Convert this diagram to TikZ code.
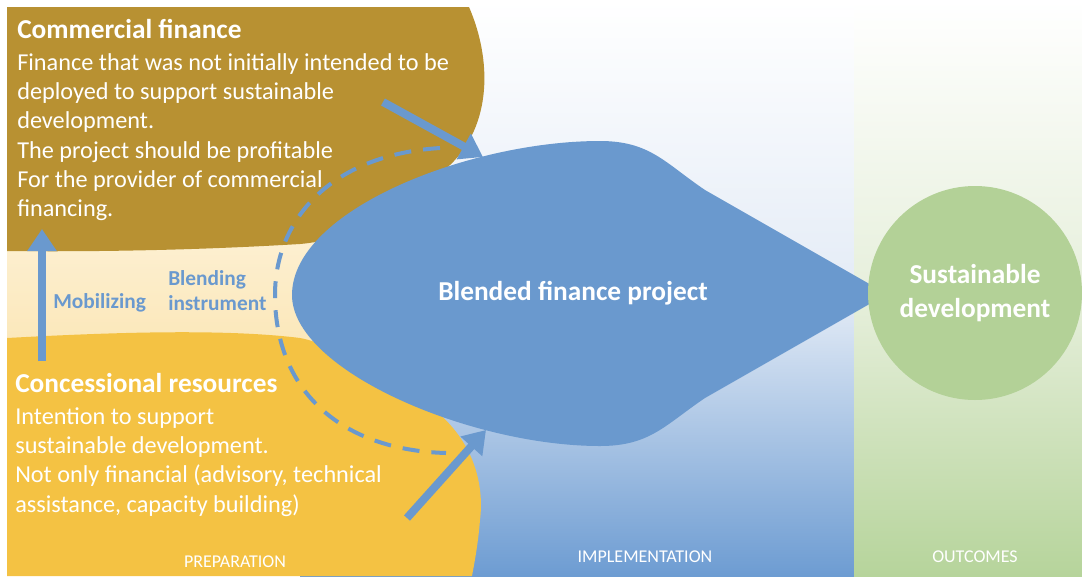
\documentclass[tikz,border=0pt]{standalone}
\usepackage{fontspec}
\setmainfont{Carlito}
\usetikzlibrary{arrows.meta}

\definecolor{cfbrown}{HTML}{B89132}
\definecolor{cryellow}{HTML}{F4C243}
\definecolor{bfblue}{HTML}{6A99CE}
\definecolor{sdgreen}{HTML}{B3D197}
\definecolor{creamtop}{HTML}{FDF0D2}
\definecolor{creammid}{HTML}{FEF7E6}
\definecolor{creambot}{HTML}{FBE7B8}
\definecolor{implmid}{HTML}{E3EBF6}
\definecolor{impllow}{HTML}{6D9CD2}
\definecolor{outcmid}{HTML}{E6EFDB}
\definecolor{outclow}{HTML}{B6D49B}

\begin{document}
\begin{tikzpicture}[x=0.75pt, y=-0.75pt,
    heading/.style={inner sep=0pt, text=white, font=\fontsize{20.5}{25}\selectfont\bfseries},
    body/.style={inner sep=0pt, text=white, align=left, font=\fontsize{18.2}{22}\selectfont},
    note/.style={inner sep=0pt, text=bfblue, align=left, font=\fontsize{16}{18.75}\selectfont\bfseries},
    phase/.style={inner sep=0pt, text=white, font=\fontsize{13.5}{15}\selectfont},
    push/.style={draw=bfblue, line width=6pt, -{Triangle[length=16.5pt, width=21pt]}}]

        \useasboundingbox (0, 0) rectangle (1082, 576);
        \fill[white] (0, 0) rectangle (1082, 576);

        % phase columns
        \shade[top color=white, bottom color=implmid] (300, 0) rectangle (854, 300);
        \shade[top color=implmid, bottom color=impllow] (300, 300) rectangle (854, 576);
        \shade[top color=white, bottom color=outcmid] (854, 0) rectangle (1082, 300);
        \shade[top color=outcmid, bottom color=outclow] (854, 300) rectangle (1082, 576);
        \shade[top color=creamtop, middle color=creammid, bottom color=creambot] (7, 235) rectangle (340, 350);

        % the two sources
        \fill[cfbrown] (7, 7) -- (469, 7) .. controls (492, 60) and (492, 125) .. (450, 165)
            .. controls (400, 210) and (350, 240) .. (300, 244)
            .. controls (200, 250) and (100, 252) .. (7, 251) -- cycle;
        \fill[cryellow] (7, 338) .. controls (100, 333) and (220, 328) .. (300, 338)
            .. controls (340, 345) and (380, 385) .. (438, 413)
            .. controls (470, 440) and (485, 480) .. (480, 520)
            .. controls (478, 545) and (474, 565) .. (472, 576) -- (7, 576) -- cycle;

        % the project
        \fill[bfblue] (887, 294) -- (705, 190) .. controls (665, 163) and (650, 141) .. (600, 141)
            .. controls (470, 141) and (292, 210) .. (292, 295)
            .. controls (292, 370) and (470, 446) .. (600, 446)
            .. controls (650, 446) and (665, 425) .. (705, 398) -- cycle;

        \coordinate (cfstart) at (383, 102);
        \coordinate (cfend) at (483, 157);
        \coordinate (crstart) at (407, 518);
        \coordinate (crend) at (486, 430);
        \coordinate (mobstart) at (42, 361);
        \coordinate (mobend) at (42, 229);
        \coordinate (blendtop) at (440, 148);
        \coordinate (blendbot) at (446, 453);

        \draw[bfblue, line width=3pt, dash pattern=on 12.75pt off 9pt] (blendtop)
            .. controls (330, 155) and (275, 220) .. (275, 295)
            .. controls (275, 390) and (340, 450) .. (blendbot);
        \draw[push] (cfstart) -- (cfend);
        \draw[push] (crstart) -- (crend);
        \draw[push] (mobstart) -- (mobend);

        \node[heading, anchor=base west] (cfhead) at (17, 38.6) {Commercial finance};
        \node[body, anchor=north west] (cfbody) at (17, 53) {Finance that was not initially intended to be\\deployed to support sustainable\\development.\\The project should be profitable\\For the provider of commercial\\financing.};
        \node[heading, anchor=base west] (crhead) at (15, 392) {Concessional resources};
        \node[body, anchor=north west] (crbody) at (15, 407) {Intention to support\\sustainable development.\\Not only financial (advisory, technical\\assistance, capacity building)};
        \node[note, anchor=base west] (mobil) at (53, 308) {Mobilizing};
        \node[note, anchor=north west] (blend) at (168, 270) {Blending\\instrument};
        \node[heading, anchor=base] (project) at (573, 300) {Blended finance project};
        \node[heading, circle, fill=sdgreen, minimum size=160.5pt, align=center] (sustdev) at (975, 293) {Sustainable\\development};

        \node[phase, anchor=base] (prep) at (235, 567.6) {PREPARATION};
        \node[phase, anchor=base] (impl) at (645, 562.6) {IMPLEMENTATION};
        \node[phase, anchor=base] (outc) at (975, 562.6) {OUTCOMES};

      \end{tikzpicture}
\end{document}
